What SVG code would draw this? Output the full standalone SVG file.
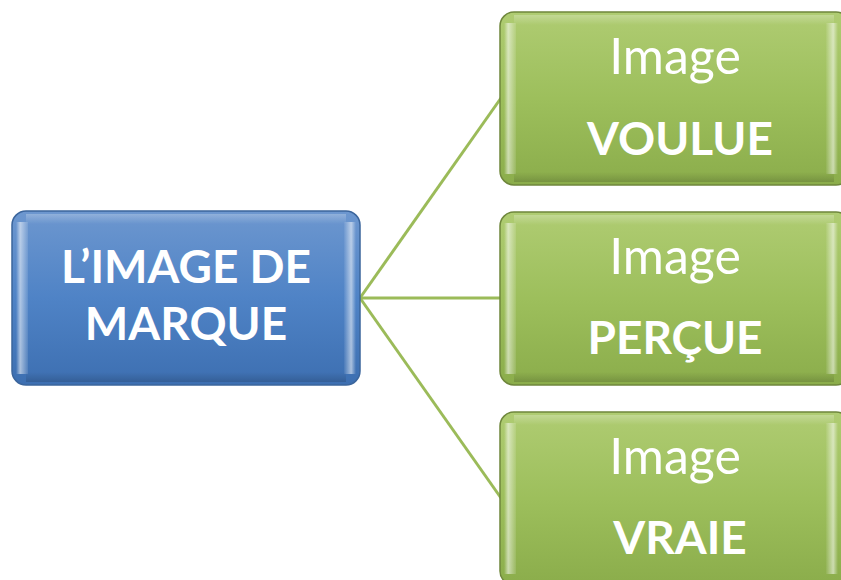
<svg xmlns="http://www.w3.org/2000/svg" width="841" height="580" viewBox="0 0 841 580">
<defs>
<linearGradient id="gBlue" x1="0" y1="0" x2="0" y2="1">
<stop offset="0" stop-color="#6d97cf"/>
<stop offset="0.5" stop-color="#4f83c6"/>
<stop offset="1" stop-color="#3d6fb1"/>
</linearGradient>
<linearGradient id="gGreen" x1="0" y1="0" x2="0" y2="1">
<stop offset="0" stop-color="#afcc72"/>
<stop offset="0.5" stop-color="#9dbf5c"/>
<stop offset="1" stop-color="#8bad4b"/>
</linearGradient>
<linearGradient id="edge" x1="0" y1="0" x2="1" y2="0">
<stop offset="0" stop-color="#ffffff" stop-opacity="0"/>
<stop offset="0.35" stop-color="#ffffff" stop-opacity="0.55"/>
<stop offset="1" stop-color="#ffffff" stop-opacity="0.1"/>
</linearGradient>
<linearGradient id="edgeR" x1="0" y1="0" x2="1" y2="0">
<stop offset="0" stop-color="#ffffff" stop-opacity="0.05"/>
<stop offset="0.6" stop-color="#ffffff" stop-opacity="0.55"/>
<stop offset="1" stop-color="#ffffff" stop-opacity="0"/>
</linearGradient>
<linearGradient id="edgeT" x1="0" y1="0" x2="0" y2="1">
<stop offset="0" stop-color="#ffffff" stop-opacity="0.25"/>
<stop offset="1" stop-color="#ffffff" stop-opacity="0"/>
</linearGradient>
<linearGradient id="edgeB" x1="0" y1="0" x2="0" y2="1">
<stop offset="0" stop-color="#000000" stop-opacity="0"/>
<stop offset="1" stop-color="#000000" stop-opacity="0.15"/>
</linearGradient>
</defs>
<style>
.conn{stroke:#9bbb59;stroke-width:3;fill:none}
.blue{fill:url(#gBlue);stroke:#3b659c;stroke-width:1.5}
.green{fill:url(#gGreen);stroke:#6f873c;stroke-width:1.5}
.t{font-family:Lato,"Open Sans","Liberation Sans",sans-serif;fill:#ffffff;text-anchor:middle}
.b{font-weight:bold;font-size:46px}
.r{font-weight:normal;font-size:50px}
</style>
<g id="connectors">
<line class="conn" x1="360" y1="298" x2="501" y2="98"/>
<line class="conn" x1="360" y1="298" x2="501" y2="298"/>
<line class="conn" x1="360" y1="298" x2="501" y2="498"/>
</g>
<g id="node-main">
<rect class="blue" x="12" y="211" width="348" height="174" rx="14"/>
<rect x="16" y="222" width="12" height="152" fill="url(#edge)"/>
<rect x="344" y="222" width="12" height="152" fill="url(#edgeR)"/>
<rect x="26" y="214" width="320" height="10" fill="url(#edgeT)"/>
<rect x="26" y="372" width="320" height="10" fill="url(#edgeB)"/>
<text class="t b" x="186" y="283">L’IMAGE DE</text>
<text class="t b" x="186" y="340">MARQUE</text>
</g>
<g id="node-voulue">
<rect class="green" x="500" y="12" width="350" height="173" rx="14"/>
<rect x="504" y="23" width="12" height="151" fill="url(#edge)"/>
<rect x="826" y="23" width="12" height="151" fill="url(#edgeR)"/>
<rect x="514" y="15" width="320" height="10" fill="url(#edgeT)"/>
<rect x="514" y="172" width="320" height="10" fill="url(#edgeB)"/>
<text class="t r" x="675" y="74">Image</text>
<text class="t b" x="680" y="155">VOULUE</text>
</g>
<g id="node-percue">
<rect class="green" x="500" y="212" width="350" height="173" rx="14"/>
<rect x="504" y="223" width="12" height="151" fill="url(#edge)"/>
<rect x="826" y="223" width="12" height="151" fill="url(#edgeR)"/>
<rect x="514" y="215" width="320" height="10" fill="url(#edgeT)"/>
<rect x="514" y="372" width="320" height="10" fill="url(#edgeB)"/>
<text class="t r" x="675" y="274">Image</text>
<text class="t b" x="675" y="354">PERÇUE</text>
</g>
<g id="node-vraie">
<rect class="green" x="500" y="412" width="350" height="173" rx="14"/>
<rect x="504" y="423" width="12" height="151" fill="url(#edge)"/>
<rect x="826" y="423" width="12" height="151" fill="url(#edgeR)"/>
<rect x="514" y="415" width="320" height="10" fill="url(#edgeT)"/>
<text class="t r" x="675" y="474">Image</text>
<text class="t b" x="680" y="554">VRAIE</text>
</g>
</svg>
